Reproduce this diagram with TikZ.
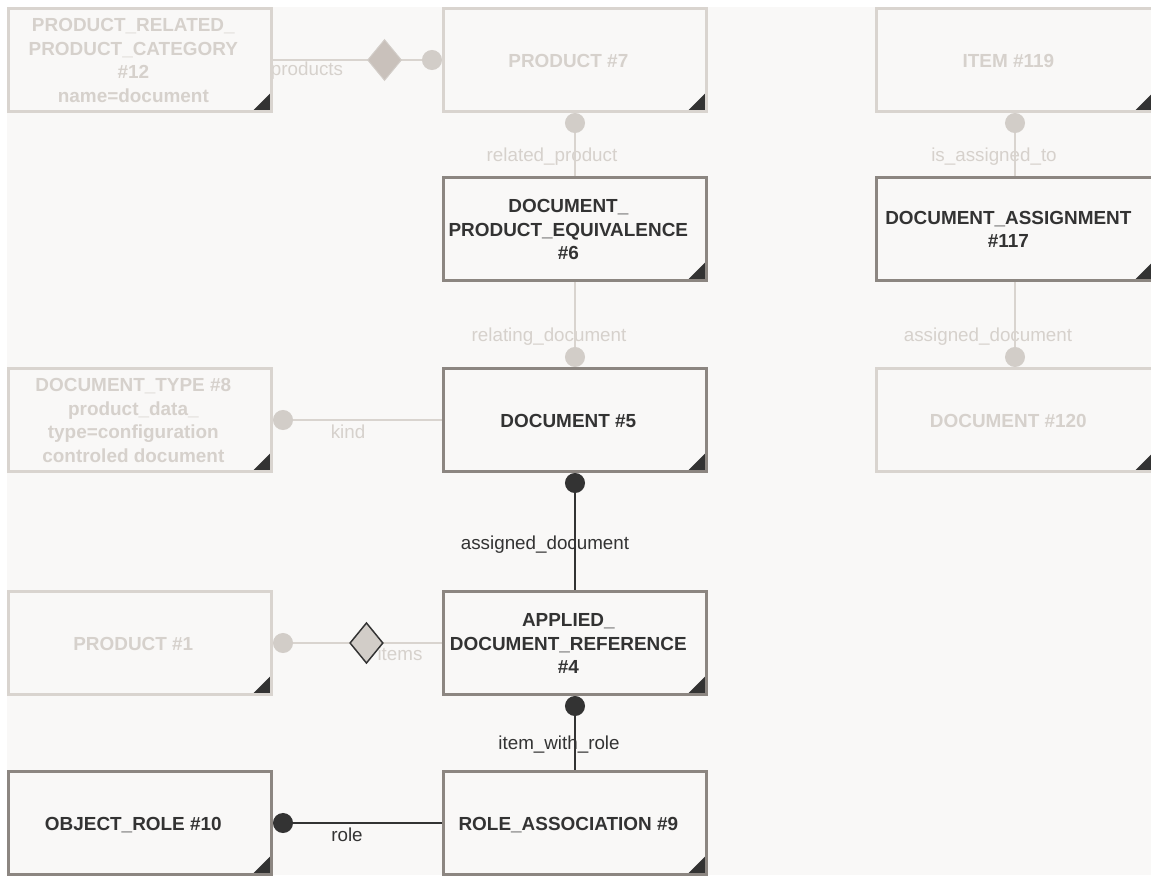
\documentclass[tikz,border=0pt]{standalone}
\usepackage{fontspec}
\setmainfont{Liberation Sans}
\usepackage{tikz}
\usetikzlibrary{arrows.meta,shapes.geometric}
\definecolor{canvasbg}{HTML}{F9F8F7}
\definecolor{fadeline}{HTML}{D9D4CF}
\definecolor{fadetext}{HTML}{D6D1CC}
\definecolor{activeline}{HTML}{8C8681}
\definecolor{inkdark}{HTML}{333333}
\definecolor{diamondfill}{HTML}{C9C1BB}
\definecolor{dotfill}{HTML}{D2CDC8}
\pgfdeclarelayer{canvas}
\pgfdeclarelayer{links}
\pgfsetlayers{canvas,links,main}
% entity text, a little left of centre
\newcommand{\etext}[1]{\raisebox{-1.8pt}[\height][\depth]{\begin{tabular}{@{}c@{\hspace{10pt}}}#1\end{tabular}}}

\begin{document}
\begin{tikzpicture}[
x=0.75pt,y=-0.75pt,
entity/.style={rectangle,draw,line width=2.25pt,fill=canvasbg,
  minimum width=197.25pt,minimum height=77.25pt,inner sep=0pt,
  font=\bfseries\fontsize{14.2}{17.6}\selectfont,
  path picture={\fill[inkdark] (path picture bounding box.south east)
    -- ++(-14.5pt,0pt) -- ++(14.5pt,14.5pt) -- cycle;}},
faded/.style={entity,draw=fadeline,text=fadetext},
active/.style={entity,draw=activeline,text=inkdark},
wide/.style={minimum width=207.75pt},
fadelink/.style={draw=fadeline,line width=1.5pt,-{Circle[length=15pt,color=dotfill]}},
darklink/.style={draw=inkdark,line width=1.5pt,-{Circle[length=15pt]}},
lbl/.style={font=\fontsize{14.1}{16}\selectfont,inner sep=0pt},
fadelbl/.style={lbl,text=fadetext},
darklbl/.style={lbl,text=inkdark},
topdiamond/.style={diamond,fill=diamondfill,draw=dotfill,line width=0.75pt,
  inner sep=0pt,minimum width=25.5pt,minimum height=30.75pt},
botdiamond/.style={diamond,fill=dotfill,draw=inkdark,line width=1.1pt,
  inner sep=0pt,minimum width=25pt,minimum height=30.5pt}]
\useasboundingbox (0,0) rectangle (1151,875);

% page
\begin{pgfonlayer}{canvas}
\fill[white] (0,0) rectangle (1151,875);
\fill[canvasbg] (7,7) rectangle (1151,875);
\end{pgfonlayer}

% entities
\node[faded] (cat) at (140,60) {\etext{PRODUCT\_RELATED\_\\PRODUCT\_CATEGORY\\\#12\\name=document}};
\node[faded] (prod7) at (575,60) {\etext{PRODUCT \#7}};
\node[faded,wide] (item) at (1015,60) {\etext{ITEM \#119}};

\node[active] (dpe) at (575,229) {\etext{DOCUMENT\_\\PRODUCT\_EQUIVALENCE\\\#6}};
\node[active,wide] (dasg) at (1015,229) {\etext{DOCUMENT\_ASSIGNMENT\\\#117}};

\node[faded] (dtype) at (140,420) {\etext{DOCUMENT\_TYPE \#8\\product\_data\_\\type=configuration\\controled document}};
\node[active] (doc5) at (575,420) {\etext{DOCUMENT \#5}};
\node[faded,wide] (doc120) at (1015,420) {\etext{DOCUMENT \#120}};

\node[faded] (prod1) at (140,643) {\etext{PRODUCT \#1}};
\node[active] (adr) at (575,643) {\etext{APPLIED\_\\DOCUMENT\_REFERENCE\\\#4}};

\node[active] (objrole) at (140,823) {\etext{OBJECT\_ROLE \#10}};
\node[active] (roleasc) at (575,823) {\etext{ROLE\_ASSOCIATION \#9}};

% attributes
\begin{pgfonlayer}{links}
\node[fadelbl] (lblproducts) at (307,71) {products};
\draw[fadelink] (cat.east) -- node[topdiamond,pos=0.66] (catdia) {} (prod7.west);

\node[fadelbl] (lblrelprod) at (552,157) {related\_product};
\draw[fadelink] (dpe.north) -- (prod7.south);

\node[fadelbl] (lblreldoc) at (549,337) {relating\_document};
\draw[fadelink] (dpe.south) -- (doc5.north);

\node[fadelbl] (lblkind) at (348,432) {kind};
\draw[fadelink] (doc5.west) -- (dtype.east);

\node[fadelbl] (lblassto) at (994,157) {is\_assigned\_to};
\draw[fadelink] (dasg.north) -- (item.south);

\node[fadelbl] (lblassdocr) at (988,337) {assigned\_document};
\draw[fadelink] (dasg.south) -- (doc120.north);

\node[darklbl] (lblassdoc) at (545,545) {assigned\_document};
\draw[darklink] (adr.north) -- (doc5.south);

\node[fadelbl] (lblitems) at (400,654) {items};
\draw[fadelink] (adr.west) -- node[botdiamond,pos=0.447] (adrdia) {} (prod1.east);

\node[darklbl] (lblrole) at (559,745) {item\_with\_role};
\draw[darklink] (roleasc.north) -- (adr.south);

\node[darklbl] (lblrolename) at (347,835) {role};
\draw[darklink] (roleasc.west) -- (objrole.east);
\end{pgfonlayer}

\end{tikzpicture}
\end{document}
